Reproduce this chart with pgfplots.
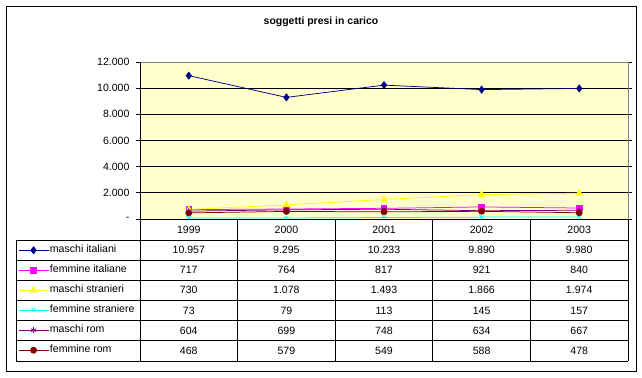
\documentclass[border=0pt]{standalone}
\usepackage{pgfplots}
\pgfplotsset{compat=1.18}
\usepackage{fontspec}
\setmainfont{Liberation Sans}
\definecolor{plotbg}{HTML}{FFFFCC}
\definecolor{cA}{HTML}{000080}
\definecolor{cB}{HTML}{FF00FF}
\definecolor{cC}{HTML}{FFFF00}
\definecolor{cD}{HTML}{00FFFF}
\definecolor{cE}{HTML}{800080}
\definecolor{cF}{HTML}{800000}
\definecolor{frame}{HTML}{808080}
\newcommand{\tf}{\fontsize{10.6}{12}\selectfont}
\begin{document}
\begin{tikzpicture}
\begin{axis}[
  name=ax, anchor=south west,
  width=488bp, height=157bp, scale only axis,
  xmin=0.5, xmax=5.5, ymin=0, ymax=12000,
  axis background/.style={fill=plotbg},
  axis line style={draw=none},
  xtick=\empty,
  ytick={0,2000,4000,6000,8000,10000,12000},
  yticklabels={-\hspace{3bp},2.000,4.000,6.000,8.000,10.000,12.000},
  scaled y ticks=false,
  ymajorgrids, major grid style={black, line width=0.75bp},
  tick align=outside, major tick length=4bp,
  ytick style={black, line width=0.75bp},
  yticklabel style={font=\tf, xshift=-3bp},
  clip=false,
  every axis plot/.append style={line width=0.75bp},
  legend style={draw=none, fill=none, at={(-0.25,-0.169)}, anchor=north west,
    inner sep=0pt, row sep=11bp, column sep=1bp,
    nodes={inner sep=0pt, text height=7bp, text depth=2bp, font=\tf}},
  legend cell align=left,
  legend image code/.code={
    \draw[mark repeat=2,mark phase=2,#1] plot coordinates {(0bp,0bp) (15bp,0bp) (30bp,0bp)};
  },
]
\addplot[color=cA, mark=diamond*, mark size=3.5bp, mark options={fill=cA}] coordinates {(1,10957) (2,9295) (3,10233) (4,9890) (5,9980)};
\addlegendentry{maschi italiani}
\addplot[color=cB, mark=square*, mark size=2.8bp, mark options={fill=cB}] coordinates {(1,717) (2,764) (3,817) (4,921) (5,840)};
\addlegendentry{femmine italiane}
\addplot[color=cC, mark=triangle*, mark size=3.5bp, mark options={fill=cC}] coordinates {(1,730) (2,1078) (3,1493) (4,1866) (5,1974)};
\addlegendentry{maschi stranieri}
\addplot[color=cD, mark=x, mark size=3bp] coordinates {(1,73) (2,79) (3,113) (4,145) (5,157)};
\addlegendentry{femmine straniere}
\addplot[color=cE, mark=asterisk, mark size=3bp] coordinates {(1,604) (2,699) (3,748) (4,634) (5,667)};
\addlegendentry{maschi rom}
\addplot[color=cF, mark=*, mark size=3bp, mark options={fill=cF}] coordinates {(1,468) (2,579) (3,549) (4,588) (5,478)};
\addlegendentry{femmine rom}
\end{axis}
\begin{scope}[x=1bp, y=1bp, shift={(ax.south west)}, xshift=-140bp, yshift=-158bp]
\path[use as bounding box] (0,0) rectangle (642,377);
\draw[black, line width=0.75bp] (6,{377-6}) rectangle (636,{377-371});
\node[font=\fontsize{10.5}{12}\selectfont\bfseries] at (321,{377-22}) {soggetti presi in carico};
% plot area border
\draw[frame, line width=0.75bp] (140,{377-62}) -- (628,{377-62}) -- (628,{377-219});
\draw[black, line width=0.75bp] (140,{377-62}) -- (140,{377-219}) -- (628,{377-219});
% data table grid
\foreach \i in {0,...,5} {
  \draw[black, line width=0.75bp] ({140+97.6*\i},{377-219}) -- ({140+97.6*\i},{377-361});
}
\foreach \i in {0,...,6} {
  \draw[black, line width=0.75bp] (16,{377-240-20.17*\i}) -- (628,{377-240-20.17*\i});
}
\draw[black, line width=0.75bp] (16,{377-240}) -- (16,{377-361});
% header years
\foreach \y [count=\k] in {1999,2000,2001,2002,2003} {
  \node[font=\tf] at ({140+97.6*(\k-0.5)},{377-230}) {\y};
}
% table values
\foreach \row [count=\r] in {
  {10.957,9.295,10.233,9.890,9.980},
  {717,764,817,921,840},
  {730,1.078,1.493,1.866,1.974},
  {73,79,113,145,157},
  {604,699,748,634,667},
  {468,579,549,588,478}} {
  \foreach \v [count=\k] in \row {
    \node[font=\tf] at ({140+97.6*(\k-0.5)},{377-250-20.17*(\r-1)}) {\v};
  }
}
\end{scope}
\end{tikzpicture}
\end{document}
